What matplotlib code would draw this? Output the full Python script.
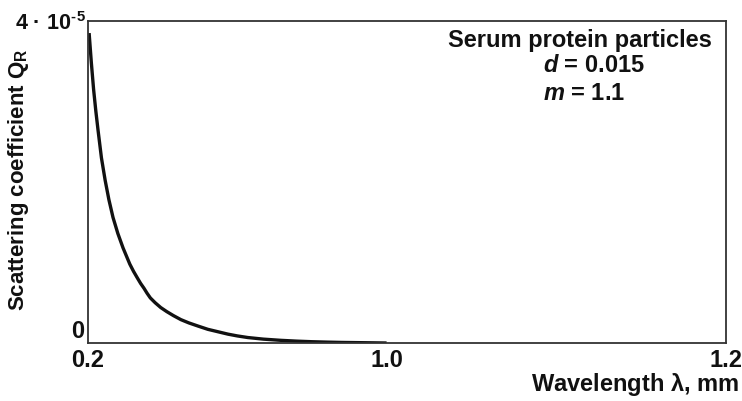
import numpy as np
import matplotlib
matplotlib.use("Agg")
import matplotlib.pyplot as plt

plt.rcParams['font.family'] = ['Liberation Sans', 'DejaVu Sans']
plt.rcParams['font.weight'] = 'bold'
plt.rcParams['mathtext.fontset'] = 'custom'
plt.rcParams['mathtext.rm'] = 'Liberation Sans:bold'
plt.rcParams['mathtext.it'] = 'Liberation Sans:bold:italic'
plt.rcParams['mathtext.default'] = 'rm'

# scattering coefficient (wavelength in mm)
wavelength = [0.203, 0.209, 0.215, 0.221, 0.227, 0.236, 0.246, 0.256, 0.267,
              0.280, 0.294, 0.303, 0.312, 0.322, 0.332, 0.341, 0.350, 0.358,
              0.367, 0.380, 0.395, 0.411, 0.429, 0.449, 0.470, 0.495, 0.521,
              0.548, 0.575, 0.600, 0.628, 0.670, 0.717, 0.760, 0.800, 0.840,
              0.880, 0.950, 1.000]
q_r = [3.85e-5, 3.48e-5, 3.15e-5, 2.88e-5, 2.64e-5, 2.30e-5, 2.02e-5, 1.78e-5,
       1.56e-5, 1.36e-5, 1.18e-5, 1.08e-5, 0.98e-5, 0.89e-5, 0.81e-5, 0.74e-5,
       0.68e-5, 0.62e-5, 0.56e-5, 0.50e-5, 0.44e-5, 0.39e-5, 0.34e-5, 0.29e-5,
       0.25e-5, 0.21e-5, 0.17e-5, 0.14e-5, 0.11e-5, 0.088e-5, 0.068e-5,
       0.048e-5, 0.033e-5, 0.023e-5, 0.016e-5, 0.011e-5, 0.007e-5, 0.003e-5, 0.0]

x_ticks = [0.2, 1.0, 1.2]
x_ticklabels = ['0.2', '1.0', '1.2']
y_ticks = [0.0, 4e-5]
y_ticklabels = ['0', '4 \u00b7 10$^{\u2010\u200a5}$']

# the original axis is not linear: 0.2-1.0 takes less than half the width
scale_src = [0.2, 1.0, 1.2]
scale_dst = [0.0, 0.468, 1.0]


def forward(x):
    return np.interp(x, scale_src, scale_dst)


def inverse(x):
    return np.interp(x, scale_dst, scale_src)


fs = 17
ink = '#111111'

fig = plt.figure(figsize=(7.42, 4.01), dpi=100)
ax = fig.add_axes([88 / 742, 1 - 343 / 401, 638 / 742, 322 / 401])
ax.set_xscale('function', functions=(forward, inverse))

ax.plot(wavelength, q_r, color=ink, lw=2.4, solid_capstyle='butt')

ax.set_xlim(0.2, 1.2)
ax.set_ylim(0, 4e-5)
ax.set_xticks(x_ticks)
ax.set_xticklabels(x_ticklabels)
ax.set_yticks(y_ticks)
ax.set_yticklabels(y_ticklabels)
ax.tick_params(length=0, labelsize=fs, colors=ink)
ax.tick_params(axis='x', pad=4)
ax.tick_params(axis='y', pad=1)
ax.get_yticklabels()[0].set_va('bottom')
ax.get_yticklabels()[0].set_x(-0.004)
ax.get_yticklabels()[1].set_fontsize(15.5)
ax.minorticks_off()

for s in ax.spines.values():
    s.set_color('#333333')
    s.set_linewidth(1.3)

fig.text(19 / 742, 1 - 180 / 401, r'Scattering coefficient Q$_{\mathregular{R}}$',
         rotation=90, ha='center', va='center', fontsize=16, color=ink)
fig.text(739 / 742, 1 - 384 / 401, r'Wavelength $\lambda$, mm',
         ha='right', va='center', fontsize=fs, color=ink)

fig.text(712 / 742, 1 - 41 / 401, 'Serum protein particles',
         ha='right', va='center', fontsize=fs, color=ink)
fig.text(543 / 742, 1 - 66 / 401, r'$\mathit{d}$ = 0.015',
         ha='left', va='center', fontsize=fs, color=ink)
fig.text(543 / 742, 1 - 93 / 401, r'$\mathit{m}$ = 1.1',
         ha='left', va='center', fontsize=fs, color=ink)

fig.savefig('out.png', dpi=100)
